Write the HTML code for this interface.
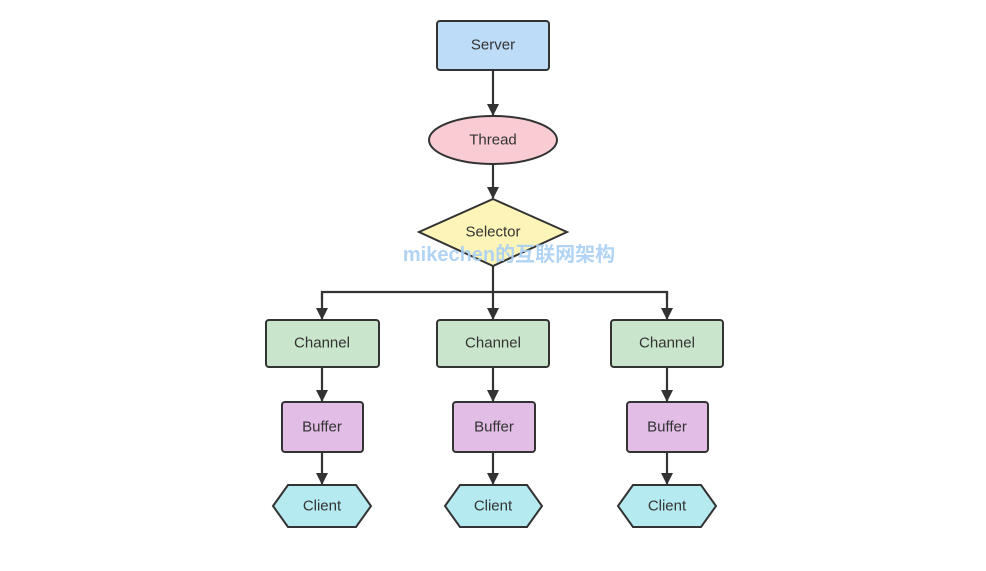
<!DOCTYPE html>
<html><head><meta charset="utf-8"><style>
html,body{margin:0;padding:0;background:#fff;width:986px;height:571px;overflow:hidden}
text{font-family:"Liberation Sans","DejaVu Sans",sans-serif;font-size:15px;fill:#333;text-anchor:middle;dominant-baseline:central}
</style></head><body>
<svg width="986" height="571" viewBox="0 0 986 571">
<defs><marker id="a" markerWidth="12" markerHeight="12" refX="11" refY="6" orient="auto" markerUnits="userSpaceOnUse"><path d="M0,0 L12,6 L0,12 Z" fill="#333"/></marker></defs>
<g stroke="#333" stroke-width="2.2" fill="none">
<line x1="493" y1="70" x2="493" y2="115" marker-end="url(#a)"/>
<line x1="493" y1="164" x2="493" y2="198" marker-end="url(#a)"/>
<line x1="493" y1="266" x2="493" y2="319" marker-end="url(#a)"/>
<polyline points="322,300 322,292 667,292 667,300" />
<line x1="322" y1="292" x2="322" y2="319" marker-end="url(#a)"/>
<line x1="667" y1="292" x2="667" y2="319" marker-end="url(#a)"/>
<line x1="322" y1="367" x2="322" y2="401" marker-end="url(#a)"/>
<line x1="493" y1="367" x2="493" y2="401" marker-end="url(#a)"/>
<line x1="667" y1="367" x2="667" y2="401" marker-end="url(#a)"/>
<line x1="322" y1="452" x2="322" y2="484" marker-end="url(#a)"/>
<line x1="493" y1="452" x2="493" y2="484" marker-end="url(#a)"/>
<line x1="667" y1="452" x2="667" y2="484" marker-end="url(#a)"/>
</g>
<g stroke="#333" stroke-width="2">
<rect x="437" y="21" width="112" height="49" rx="3" fill="#bddcf7"/>
<ellipse cx="493" cy="140" rx="64" ry="24" fill="#f9ccd3"/>
<polygon points="493,199 567,232 493,266 419,232" fill="#fdf5b8"/>
<rect x="266" y="320" width="113" height="47" rx="3" fill="#c9e6cc"/>
<rect x="437" y="320" width="112" height="47" rx="3" fill="#c9e6cc"/>
<rect x="611" y="320" width="112" height="47" rx="3" fill="#c9e6cc"/>
<rect x="282" y="402" width="81" height="50" rx="3" fill="#e2bde6"/>
<rect x="453" y="402" width="82" height="50" rx="3" fill="#e2bde6"/>
<rect x="627" y="402" width="81" height="50" rx="3" fill="#e2bde6"/>
<polygon points="273,506 288,485 356,485 371,506 356,527 288,527" fill="#b5eaf0"/>
<polygon points="445,506 460,485 527,485 542,506 527,527 460,527" fill="#b5eaf0"/>
<polygon points="618,506 633,485 701,485 716,506 701,527 633,527" fill="#b5eaf0"/>
</g>
<text x="493" y="45">Server</text>
<text x="493" y="140">Thread</text>
<text x="493" y="232">Selector</text>
<text x="322" y="343">Channel</text>
<text x="493" y="343">Channel</text>
<text x="667" y="343">Channel</text>
<text x="322" y="427">Buffer</text>
<text x="494" y="427">Buffer</text>
<text x="667" y="427">Buffer</text>
<text x="322" y="506">Client</text>
<text x="493" y="506">Client</text>
<text x="667" y="506">Client</text>
<text x="509" y="255" style="font-family:'Liberation Sans','Noto Sans CJK SC',sans-serif;font-size:20px;font-weight:bold;fill:#a9d0f5;opacity:0.9">mikechen的互联网架构</text>
</svg>
</body></html>
